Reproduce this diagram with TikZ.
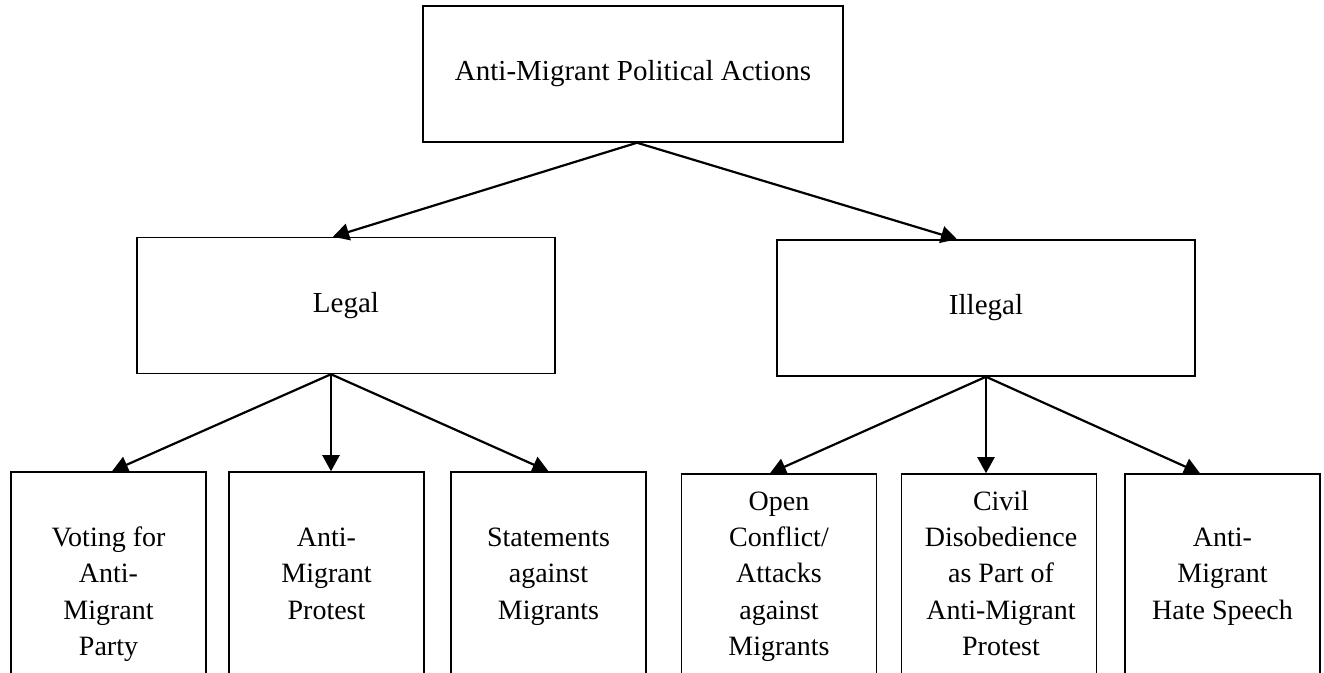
\documentclass[tikz,border=0pt]{standalone}
\usepackage{fontspec}
\setmainfont{Liberation Serif}
\usetikzlibrary{arrows.meta,calc}
\begin{document}
\begin{tikzpicture}[x=0.5pt,y=-0.5pt,
  box/.style={draw,line width=0.75pt,inner sep=0pt,rectangle},
  midbox/.style={box,minimum width=209pt,minimum height=68pt,font=\fontsize{14.5}{17}\selectfont},
  leafbox/.style={box,minimum width=97.5pt,minimum height=114pt},
  lbl/.style={align=center,inner sep=0pt,font=\fontsize{14}{18.1}\selectfont,anchor=north},
  arr/.style={line width=1.1pt,-{Triangle[length=8pt,width=8.5pt]}}]
\useasboundingbox (0,0) rectangle (1324,673);
\clip (0,0) rectangle (1324,673);
\fill[white] (0,0) rectangle (1324,673);

\node[box,minimum width=210pt,minimum height=68pt,font=\fontsize{14.5}{17}\selectfont] (top) at (633,74) {Anti-Migrant Political Actions};

\node[midbox] (legal) at (346,305.5) {Legal};
\node[midbox] (illegal) at (986,308) {Illegal};

\node[leafbox] (b1) at (108.5,586) {};
\node[leafbox] (b2) at (326.5,586) {};
\node[leafbox] (b3) at (548.5,586) {};
\node[leafbox,minimum height=113pt] (b4) at (779,587) {};
\node[leafbox,minimum height=113pt] (b5) at (999,587) {};
\node[leafbox,minimum height=113pt] (b6) at (1222.5,587) {};

\node[lbl] (t1) at (108.5,520.9) {\strut Voting for\\Anti-\\Migrant\\Party};
\node[lbl] (t2) at (326.5,520.9) {\strut Anti-\\Migrant\\Protest};
\node[lbl] (t3) at (548.5,520.9) {\strut Statements\\against\\Migrants};
\node[lbl] (t4) at (779,484.7) {\strut Open\\Conflict/\\Attacks\\against\\Migrants};
\node[lbl] (t5) at (1001,484.7) {\strut Civil\\Disobedience\\as Part of\\Anti-Migrant\\Protest};
\node[lbl] (t6) at (1222.5,520.9) {\strut Anti-\\Migrant\\Hate Speech};

\coordinate (ts) at ([xshift=2pt]top.south);
\draw[arr] (ts) -- ([xshift=-6.5pt]legal.north);
\draw[arr] (ts) -- ([xshift=-14.5pt]illegal.north);

\coordinate (ls) at ([xshift=-7.5pt]legal.south);
\draw[arr] (ls) -- ([xshift=1.75pt]b1.north);
\draw[arr] (ls) -- (ls |- b2.north);
\draw[arr] (ls) -- (b3.north);

\coordinate (is) at (illegal.south);
\draw[arr] (is) -- ([xshift=-4.5pt]b4.north);
\draw[arr] (is) -- (is |- b5.north);
\draw[arr] (is) -- ([xshift=-11.25pt]b6.north);
\end{tikzpicture}
\end{document}
